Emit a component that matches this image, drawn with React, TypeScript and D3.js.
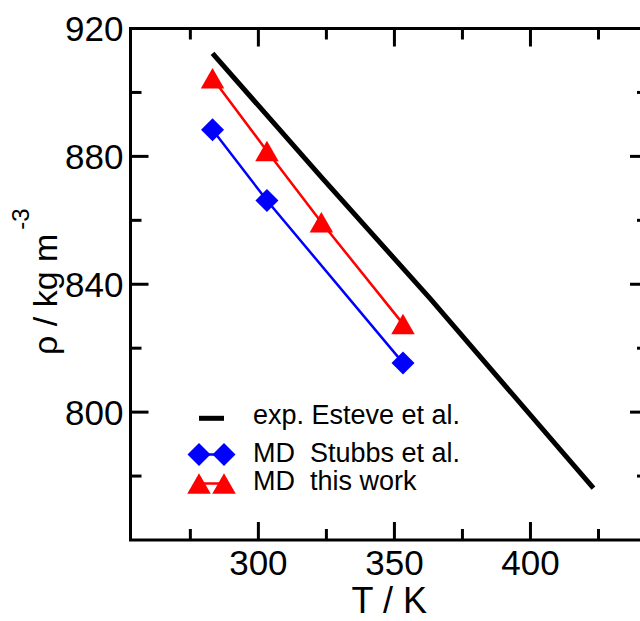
import React from 'react';
import * as d3 from 'd3';

// experimental density (Esteve et al.), T in K, rho in kg/m^3
const expT = [283.15, 323.15, 363.15, 423.15];
const expRho = [912.2, 873.5, 835.5, 776.2];

// MD Stubbs et al.
const stubbsT = [283.15, 303.15, 353.15];
const stubbsRho = [888.3, 866.2, 815.4];

// MD this work
const thisT = [283.15, 303.15, 323.15, 353.15];
const thisRho = [904.4, 881.7, 859.4, 827.6];

const xMajor = [300, 350, 400, 450];
const xMinor = [275, 325, 375, 425];
const xLabels = [300, 350, 400];
const yMajor = [800, 840, 880, 920];
const yMinor = [780, 820, 860, 900];
const yLabels = [800, 840, 880, 920];

const legendLabels = ['exp. Esteve et al.', 'MD  Stubbs et al.', 'MD  this work'];

const W = 640;
const H = 621;
const FONT = '"Liberation Sans", Arial, Helvetica, sans-serif';

const diamond = (s: number) => `M0,${-s}L${s},0L0,${s}L${-s},0Z`;
const triangle = (w: number, h: number) => `M0,${-h / 2}L${w / 2},${h / 2}L${-w / 2},${h / 2}Z`;

export default function App() {
  const x = d3.scaleLinear().domain([253, 443.2]).range([130.5, 648]);
  const y = d3.scaleLinear().domain([760, 920]).range([540, 28.5]);
  const [x0, x1] = x.range();
  const [y0, y1] = y.range();

  const line = d3.line<[number, number]>().x(d => x(d[0])).y(d => y(d[1]));
  const expPts = expT.map((t, i) => [t, expRho[i]] as [number, number]);
  const stubbsPts = stubbsT.map((t, i) => [t, stubbsRho[i]] as [number, number]);
  const thisPts = thisT.map((t, i) => [t, thisRho[i]] as [number, number]);

  const MAJ = 18;
  const MIN = 11;

  return (
    <svg width={W} height={H} style={{ position: 'absolute', left: 0, top: 0, overflow: 'hidden' }}
      fontFamily={FONT}>
      <rect width={W} height={H} fill="#fff" />

      {/* data */}
      <path d={line(expPts) || ''} fill="none" stroke="#000" strokeWidth={5} />
      <path d={line(stubbsPts) || ''} fill="none" stroke="#0000ff" strokeWidth={2.5} />
      {stubbsPts.map((p, i) => (
        <path key={'s' + i} d={diamond(11.5)} transform={`translate(${x(p[0])},${y(p[1])})`} fill="#0000ff" />
      ))}
      <path d={line(thisPts) || ''} fill="none" stroke="#ff0000" strokeWidth={2.5} />
      {thisPts.map((p, i) => (
        <path key={'t' + i} d={triangle(23.5, 20.5)} transform={`translate(${x(p[0])},${y(p[1])})`} fill="#ff0000" />
      ))}

      {/* frame */}
      <rect x={x0} y={y1} width={x1 - x0} height={y0 - y1} fill="none" stroke="#000" strokeWidth={3} />

      {/* ticks */}
      <g stroke="#000" strokeWidth={3}>
        {xMajor.map(t => (
          <g key={'xM' + t}>
            <line x1={x(t)} x2={x(t)} y1={y0} y2={y0 - MAJ} />
            <line x1={x(t)} x2={x(t)} y1={y1} y2={y1 + MAJ} />
          </g>
        ))}
        {xMinor.map(t => (
          <g key={'xm' + t}>
            <line x1={x(t)} x2={x(t)} y1={y0} y2={y0 - MIN} />
            <line x1={x(t)} x2={x(t)} y1={y1} y2={y1 + MIN} />
          </g>
        ))}
        {yMajor.map(t => (
          <g key={'yM' + t}>
            <line x1={x0} x2={x0 + MAJ} y1={y(t)} y2={y(t)} />
            <line x1={x1} x2={x1 - MAJ} y1={y(t)} y2={y(t)} />
          </g>
        ))}
        {yMinor.map(t => (
          <g key={'ym' + t}>
            <line x1={x0} x2={x0 + MIN} y1={y(t)} y2={y(t)} />
            <line x1={x1} x2={x1 - MIN} y1={y(t)} y2={y(t)} />
          </g>
        ))}
      </g>

      {/* tick labels */}
      {xLabels.map(t => (
        <text key={'xl' + t} x={x(t)} y={574.5} fontSize={35} textAnchor="middle" fill="#000">{t}</text>
      ))}
      {yLabels.map(t => (
        <text key={'yl' + t} x={123.5} y={y(t)} dy="0.36em" fontSize={35} textAnchor="end" fill="#000">{t}</text>
      ))}

      {/* axis titles */}
      <text x={(x0 + 640) / 2 + 4} y={613} fontSize={36} textAnchor="middle" fill="#000">T / K</text>
      <text transform="translate(57,355) rotate(-90)" fontSize={34} fill="#000">
        ρ / kg m<tspan dx={4} dy={-28} fontSize={24}>-3</tspan>
      </text>

      {/* legend */}
      <line x1={199} x2={224} y1={418.3} y2={418.3} stroke="#000" strokeWidth={5} />
      <line x1={199} x2={224} y1={454.5} y2={454.5} stroke="#0000ff" strokeWidth={2.5} />
      <path d={diamond(11.5)} transform="translate(199,454.5)" fill="#0000ff" />
      <path d={diamond(11.5)} transform="translate(224,454.5)" fill="#0000ff" />
      <line x1={199} x2={224} y1={483.5} y2={483.5} stroke="#ff0000" strokeWidth={2.5} />
      <path d={triangle(23.5, 20.5)} transform="translate(199,483.5)" fill="#ff0000" />
      <path d={triangle(23.5, 20.5)} transform="translate(224,483.5)" fill="#ff0000" />
      {legendLabels.map((l, i) => (
        <text key={l} x={253} y={[424, 462, 490][i]} fontSize={27} fill="#000" style={{ whiteSpace: 'pre' }}>{l}</text>
      ))}
    </svg>
  );
}
